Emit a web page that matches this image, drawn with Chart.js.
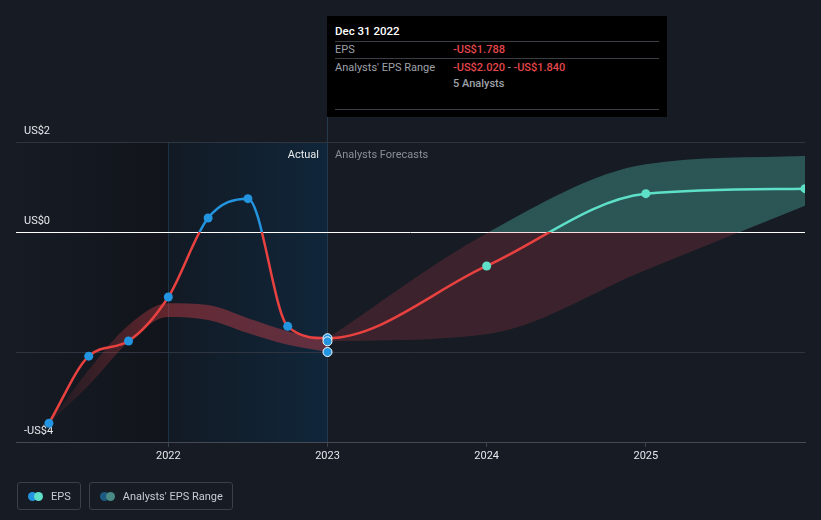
<!DOCTYPE html>
<html>
<head>
<meta charset="utf-8">
<script src="https://cdn.jsdelivr.net/npm/chart.js@4"></script>
<style>
body{margin:0;background:#161b24;font-family:Roboto,sans-serif;}
#wrap{position:relative;width:821px;height:520px;overflow:hidden;}
#chart{position:absolute;left:0;top:0;}
.zone{position:absolute;top:148px;font-size:11px;line-height:14px;white-space:nowrap;}
#actual{right:502px;color:#e8eaec;}
#forecast{left:335px;color:#8a8f98;}
#tip{position:absolute;left:327px;top:16px;width:340px;height:101px;background:#000;font-size:11px;line-height:14px;}
#tip div{position:absolute;white-space:nowrap;}
#tip .sep{left:8px;width:324px;height:1px;background:#3b3e44;}
#tip .k{left:8px;color:#9ea2a9;}
#tip .v{left:126px;color:#9ea2a9;}
#tip .red{color:#e5474b;font-weight:500;}
#legend{position:absolute;left:17px;top:482px;display:flex;gap:8px;}
.item{height:26px;border:1px solid #3a3f48;border-radius:3px;display:flex;align-items:center;padding:0 9px 0 10px;color:#c8ccd2;font-size:11px;}
.dots{position:relative;width:15px;height:9px;margin-right:8px;}
.dots i{position:absolute;top:0;width:9px;height:9px;border-radius:50%;}
</style>
</head>
<body>
<div id="wrap">
  <canvas id="chart" width="821" height="520"></canvas>
  <div class="zone" id="actual">Actual</div>
  <div class="zone" id="forecast">Analysts Forecasts</div>
  <div id="tip">
    <div style="left:8px;top:8px;color:#fff;font-weight:500;font-size:11.5px;" id="tipDate"></div>
    <div class="sep" style="top:25px"></div>
    <div class="k" style="top:27px">EPS</div>
    <div class="v red" style="top:27px" id="tipEps"></div>
    <div class="sep" style="top:42px"></div>
    <div class="k" style="top:45px">Analysts' EPS Range</div>
    <div class="v" style="top:45px" id="tipRange"></div>
    <div class="v" style="top:61px;font-weight:500;" id="tipCount"></div>
    <div class="sep" style="top:93px"></div>
  </div>
  <div id="legend">
    <div class="item"><span class="dots"><i style="left:0;background:#2394df"></i><i style="left:6px;background:#5ee0c8"></i></span>EPS</div>
    <div class="item"><span class="dots"><i style="left:0;background:#1c5a80"></i><i style="left:6px;background:#4a8a84"></i></span>Analysts' EPS Range</div>
  </div>
</div>
<script>
// reported EPS (quarter ends as fractional years)
const epsYears=[2021.25,2021.5,2021.75,2022.0,2022.25,2022.5,2022.75,2023.0];
const epsValues=[-3.22,-2.09,-1.835,-1.094,0.236,0.561,-1.588,-1.788];
// past analyst range
const pastHigh=[-3.22,-2.32,-1.57,-1.20,-1.23,-1.45,-1.67,-1.84];
const pastLow=[-3.22,-2.58,-1.85,-1.43,-1.48,-1.70,-1.90,-2.02];
// forecasts
const fcYears=[2023.0,2024.0,2025.0,2026.0];
const fcValues=[-1.788,-0.572,0.645,0.73];
const fcHigh=[-1.788,-0.02,1.14,1.28];
const fcLow=[-1.84,-1.72,-0.64,0.44];
const analystCount=5;
const tipDate="Dec 31 2022";
// axes
const xTicks=[2022,2023,2024,2025];
const xMin=2021.043,xMax=2026;
const yTickValues=[1.515,0,-2.02,-3.535];
const yTickLabels=["US$2","US$0","","-US$4"];
const actualStart=2022,actualEnd=2023;

const RED="#e8413f",BLUE="#2394df",TEAL="#5ee0c8";

const fmt=v=>(v<0?"-":"")+"US$"+Math.abs(v).toFixed(3);
const last=epsValues.length-1;
document.getElementById("tipDate").textContent=tipDate;
document.getElementById("tipEps").textContent=fmt(epsValues[last]);
document.getElementById("tipRange").innerHTML='<span class="red">'+fmt(pastLow[last])+'</span> - <span class="red">'+fmt(pastHigh[last])+'</span>';
document.getElementById("tipCount").textContent=analystCount+" Analysts";

const pts=(xs,ys)=>xs.map((x,i)=>({x:x,y:ys[i]}));
// one continuous EPS series: reported then forecast
const allEps=pts(epsYears,epsValues).concat(pts(fcYears.slice(1),fcValues.slice(1)));

function splitY(above,below){
  return function(c){
    const chart=c.chart,a=chart.chartArea;
    if(!a) return below;
    const z=chart.scales.y.getPixelForValue(0);
    const t=Math.min(1,Math.max(0,(z-a.top)/(a.bottom-a.top)));
    const g=chart.ctx.createLinearGradient(0,a.top,0,a.bottom);
    g.addColorStop(0,above);g.addColorStop(t,above);g.addColorStop(t,below);g.addColorStop(1,below);
    return g;
  };
}
const pastLine=splitY(BLUE,RED),futureLine=splitY(TEAL,RED);

function pastFill(c){
  const chart=c.chart,a=chart.chartArea;
  if(!a) return "rgba(220,65,75,0.38)";
  const x=chart.scales.x;
  const g=chart.ctx.createLinearGradient(x.getPixelForValue(epsYears[0]),0,x.getPixelForValue(actualStart),0);
  g.addColorStop(0,"rgba(220,65,75,0.05)");
  g.addColorStop(1,"rgba(220,65,75,0.4)");
  return g;
}

const zones={
  id:"zones",
  beforeDraw(chart){
    const {ctx,chartArea:a,scales:{x}}=chart;
    const x1=Math.round(x.getPixelForValue(actualStart)),x2=Math.round(x.getPixelForValue(actualEnd));
    ctx.save();
    let g=ctx.createLinearGradient(a.left,0,x1,0);
    g.addColorStop(0,"#161b24");g.addColorStop(1,"#11141a");
    ctx.fillStyle=g;ctx.fillRect(a.left,a.top,x1-a.left,a.bottom-a.top);
    g=ctx.createLinearGradient(x1,0,x2,0);
    g.addColorStop(0,"#121a24");g.addColorStop(1,"#10263a");
    ctx.fillStyle=g;ctx.fillRect(x1,a.top,x2-x1,a.bottom-a.top);
    ctx.lineWidth=1;
    ctx.strokeStyle="#1b3244";
    ctx.beginPath();ctx.moveTo(x1+0.5,a.top);ctx.lineTo(x1+0.5,a.bottom);ctx.stroke();
    ctx.strokeStyle="#25394b";
    ctx.beginPath();ctx.moveTo(x2+0.5,a.top-25);ctx.lineTo(x2+0.5,a.bottom);ctx.stroke();
    ctx.restore();
  }
};

const band={type:"line",cubicInterpolationMode:"monotone",borderWidth:0,pointRadius:0};

new Chart(document.getElementById("chart"),{
  type:"line",
  data:{datasets:[
    {data:[{x:actualEnd,y:epsValues[last]},{x:actualEnd,y:pastHigh[last]},{x:actualEnd,y:pastLow[last]}],
     showLine:false,pointRadius:4.5,pointBackgroundColor:BLUE,pointBorderColor:"#fff",pointBorderWidth:1},
    {data:allEps,cubicInterpolationMode:"monotone",borderWidth:2.5,borderColor:RED,
     segment:{borderColor:c=>c.p0.parsed.x<actualEnd?pastLine(c):futureLine(c)},
     pointRadius:4.5,pointBorderWidth:0,
     pointBackgroundColor:c=>c.dataIndex<=last?BLUE:TEAL,
     pointBorderColor:c=>c.dataIndex<=last?BLUE:TEAL},
    Object.assign({data:pts(epsYears,pastHigh),fill:"+1",backgroundColor:pastFill},band),
    Object.assign({data:pts(epsYears,pastLow),fill:false},band),
    Object.assign({data:pts(fcYears,fcHigh),fill:"+1",backgroundColor:splitY("rgba(95,224,200,0.3)","rgba(228,70,80,0.19)")},band),
    Object.assign({data:pts(fcYears,fcLow),fill:false},band)
  ]},
  options:{
    responsive:false,animation:false,
    layout:{padding:{left:16,right:16,top:142,bottom:48}},
    plugins:{legend:{display:false},tooltip:{enabled:false}},
    scales:{
      x:{type:"linear",min:xMin,max:xMax,
        afterBuildTicks:s=>{s.ticks=xTicks.map(v=>({value:v}));},
        afterFit:s=>{s.height=30;},
        grid:{drawOnChartArea:false,drawTicks:true,tickLength:5,color:"#3c424c"},
        border:{color:"#454b55"},
        ticks:{color:"#e6e8eb",padding:3,font:{family:"Roboto",size:11},callback:v=>String(v)}},
      y:{type:"linear",min:yTickValues[3],max:yTickValues[0],
        afterBuildTicks:s=>{s.ticks=yTickValues.map(v=>({value:v}));},
        afterFit:s=>{s.width=0;},
        grid:{drawTicks:false,color:c=>c.tick&&c.tick.value===0?"#ffffff":"#2f3540",lineWidth:1},
        border:{display:false},
        ticks:{mirror:true,padding:8,labelOffset:-11,color:"#e6e8eb",font:{family:"Roboto",size:11},
          callback:(v,i)=>yTickLabels[i]}}
    }
  },
  plugins:[zones]
});
</script>
</body>
</html>
